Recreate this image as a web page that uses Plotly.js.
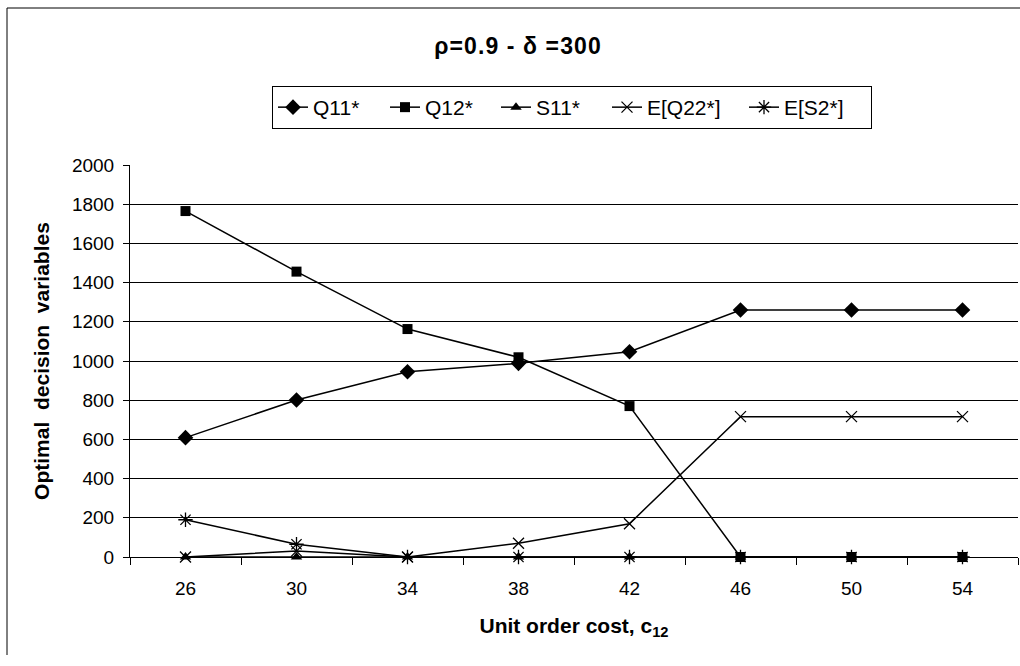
<!DOCTYPE html>
<html>
<head>
<meta charset="utf-8">
<script src="https://cdn.plot.ly/plotly-3.0.1.min.js"></script>
<style>
html,body{margin:0;padding:0;background:#fff;}
#chart{width:1020px;height:666px;}
#chart .g-gtitle text{letter-spacing:1.1px;}
</style>
</head>
<body>
<div id="chart"></div>
<script>
const categories = ["26","30","34","38","42","46","50","54"];
const q11 = [609, 801, 945, 988, 1047, 1260, 1260, 1260];
const q12 = [1765, 1456, 1163, 1019, 770, 0, 0, 0];
const s11 = [0, 0, 0, 0, 0, 0, 0, 0];
const eq22 = [0, 30, 0, 70, 170, 716, 716, 716];
const es2 = [190, 65, 0, 0, 0, 0, 0, 0];
const seriesNames = ["Q11*", "Q12*", "S11*", "E[Q22*]", "E[S2*]"];
const yTicks = [0,200,400,600,800,1000,1200,1400,1600,1800,2000];

const FONT = "Liberation Sans, Arial, sans-serif";
const lineStyle = {color:"#000", width:1.5};

function mk(y, name, symbol, size, open, lw){
  return {
    type:"scatter", mode:"lines+markers", x:categories, y:y, name:name,
    line:lineStyle, legendwidth:lw,
    marker:{symbol:symbol, size:size, color:"#000",
      line:{color:"#000", width: open ? 1.3 : 0}},
    cliponaxis:false
  };
}

const data = [
  mk(q11, seriesNames[0], "diamond", 12, false, 67),
  mk(q12, seriesNames[1], "square", 10, false, 66),
  mk(s11, seriesNames[2], "triangle-up", 10, false, 66),
  mk(eq22, seriesNames[3], "x-thin-open", 11, true, 92),
  mk(es2, seriesNames[4], "asterisk-open", 12, true, 82)
];

const layout = {
  width:1020, height:666,
  paper_bgcolor:"#fff", plot_bgcolor:"#fff",
  margin:{l:130, r:2, t:165, b:109},
  font:{family:FONT, size:19, color:"#000"},
  title:{text:"<b>ρ=0.9 - δ =300</b>", font:{family:FONT, size:23, color:"#000"},
    xref:"container", x:518/1020, xanchor:"center", yref:"container", y:1-46/666, yanchor:"middle"},
  showlegend:true,
  legend:{orientation:"h", x:(272-130)/888, xanchor:"left", y:(557-86)/392, yanchor:"top",
    bordercolor:"#000", borderwidth:1, bgcolor:"#fff",
    font:{family:FONT, size:21, color:"#000"}, traceorder:"normal", itemwidth:30},
  xaxis:{type:"category", range:[-0.5, 7.5], tickson:"boundaries",
    ticks:"outside", ticklen:7, tickcolor:"#000", tickwidth:1, ticklabelstandoff:14,
    showline:true, linecolor:"#000", linewidth:1, showgrid:false, zeroline:false,
    tickfont:{family:FONT, size:19, color:"#000"},
    title:{text:"<b>Unit order cost, c<sub>12</sub></b>", font:{family:FONT, size:21, color:"#000"}, standoff:20}},
  yaxis:{range:[0,2000], tickvals:yTicks, ticktext:yTicks.map(String),
    ticks:"outside", ticklen:6, tickcolor:"#000", ticklabelstandoff:5,
    showline:true, linecolor:"#000", linewidth:1,
    showgrid:true, gridcolor:"#000", gridwidth:1, zeroline:false,
    tickfont:{family:FONT, size:19, color:"#000"},
    title:{text:"<b>Optimal  decision  variables</b>", font:{family:FONT, size:21, color:"#000"}, standoff:16}},
  shapes:[
    {type:"line", xref:"paper", yref:"paper", x0:(7-130)/888, x1:(7-130)/888, y0:(557-8)/392, y1:(557-655)/392,
     line:{color:"#000", width:1}},
    {type:"line", xref:"paper", yref:"paper", x0:(7-130)/888, x1:(1020-130)/888, y0:(557-8)/392, y1:(557-8)/392,
     line:{color:"#000", width:1}}
  ]
};

Plotly.newPlot("chart", data, layout, {displayModeBar:false, staticPlot:true});
</script>
</body>
</html>
